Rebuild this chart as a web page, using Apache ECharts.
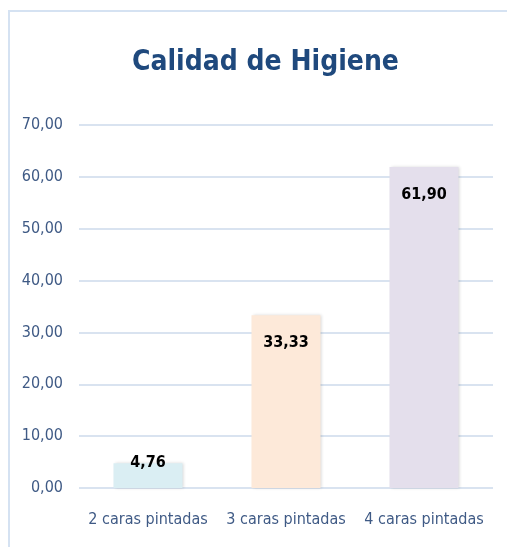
<!DOCTYPE html>
<html>
<head>
<meta charset="utf-8">
<script src="https://cdn.jsdelivr.net/npm/echarts@6/dist/echarts.min.js"></script>
<style>
  html, body { margin: 0; padding: 0; background: #fff; }
  #chart { width: 507px; height: 547px; }
</style>
</head>
<body>
<div id="chart"></div>
<script>
var categories = ['2 caras pintadas', '3 caras pintadas', '4 caras pintadas'];
var values = [4.76, 33.33, 61.90];
var barColors = ['#DAEEF3', '#FDE9D9', '#E4DFEC'];
var yTicks = { min: 0, max: 70, interval: 10 };

var font = '"DejaVu Sans Condensed", "Liberation Sans Narrow", sans-serif';

function fmt(v) {
    return v.toFixed(2).replace('.', ',');
}

window.onload = function () {
    var myChart = echarts.init(document.getElementById('chart'));

    var seriesData = values.map(function (v, i) {
        var item = {
            value: v,
            itemStyle: { color: barColors[i] }
        };
        if (i === 0) {
            item.label = { position: 'top', distance: -8 };
        }
        return item;
    });

    var option = {
        animation: false,
        title: {
            text: 'Calidad de Higiene',
            left: 127,
            top: 44,
            textStyle: {
                fontFamily: font,
                fontSize: 28,
                fontWeight: 'bold',
                color: '#1F497D'
            }
        },
        graphic: [
            {
                type: 'polyline',
                shape: { points: [[9, 547], [9, 11], [507, 11]] },
                style: { stroke: '#D5E2F2', lineWidth: 2, fill: null }
            }
        ],
        grid: { left: 79, right: 14, top: 125, bottom: 59 },
        xAxis: {
            type: 'category',
            data: categories,
            axisLine: { show: false },
            axisTick: { show: false },
            axisLabel: {
                interval: 0,
                margin: 24,
                fontFamily: font,
                fontSize: 16,
                color: '#3F5A85'
            }
        },
        yAxis: {
            type: 'value',
            min: yTicks.min,
            max: yTicks.max,
            interval: yTicks.interval,
            axisLine: { show: false },
            axisTick: { show: false },
            splitLine: { lineStyle: { color: '#D9E3F0', width: 2 } },
            axisLabel: {
                margin: 16,
                fontFamily: font,
                fontSize: 16,
                color: '#3F5A85',
                formatter: fmt
            }
        },
        series: [{
            type: 'bar',
            data: seriesData,
            barWidth: '50%',
            itemStyle: {
                shadowColor: 'rgba(0,0,0,0.15)',
                shadowBlur: 3,
                shadowOffsetX: 1
            },
            label: {
                show: true,
                position: 'insideTop',
                distance: 20,
                fontFamily: font,
                fontSize: 16,
                fontWeight: 'bold',
                color: '#000',
                formatter: function (p) { return fmt(p.value); }
            }
        }]
    };

    myChart.setOption(option);
};
</script>
</body>
</html>
